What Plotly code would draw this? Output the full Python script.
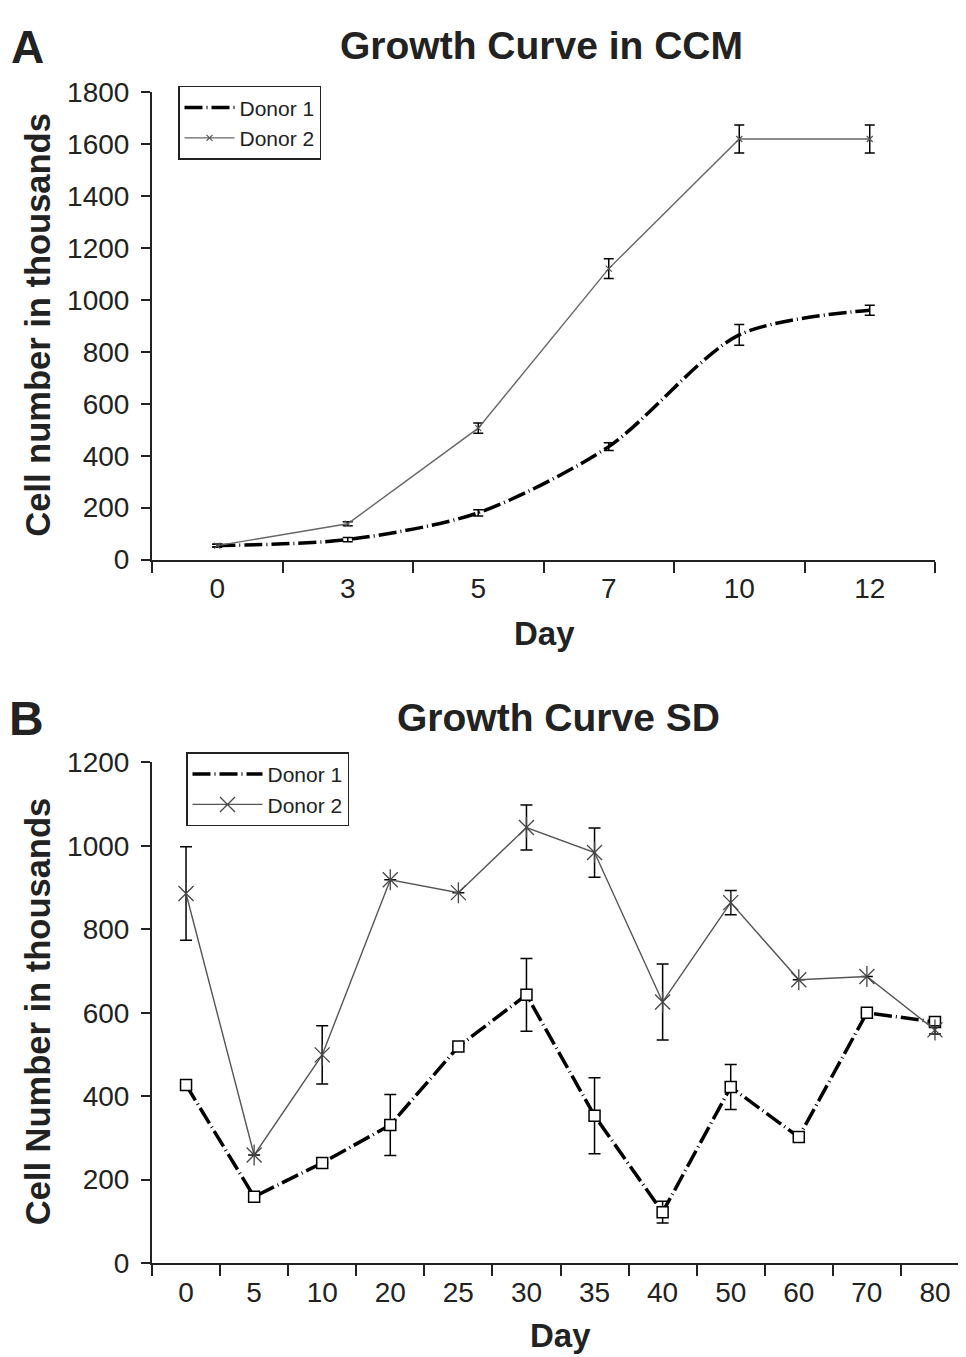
import plotly.graph_objects as go

# ---------------- Data ----------------
days_a = ["0", "3", "5", "7", "10", "12"]
a_donor1 = [54, 77, 180, 435, 865, 960]
a_donor1_err = [5, 8, 12, 15, 40, 19]
a_donor2 = [54, 138, 506, 1120, 1619, 1619]
a_donor2_err = [5, 8, 20, 38, 54, 54]

days_b = ["0", "5", "10", "20", "25", "30", "35", "40", "50", "60", "70", "80"]
b_donor1 = [427, 159, 240, 331, 519, 643, 353, 122, 422, 302, 600, 578]
b_donor1_err = [0, 0, 0, 73, 0, 87, 91, 26, 54, 0, 0, 10]
b_donor2 = [886, 259, 499, 919, 888, 1044, 984, 626, 864, 679, 687, 559]
b_donor2_err = [112, 0, 70, 0, 0, 54, 59, 91, 29, 0, 0, 10]

# figure size and the observed page->picture mapping
W, H = 961, 1365
OX = 8.0
SY, OY = 0.978, 23.0
FONT = "Liberation Sans, Arial, sans-serif"
TXT = "#222222"
DASH1 = "18px,4px,1px,4px"


def px(x):
    return min(1.0, (x - OX) / W)


def py(y):
    return 1 - (y - OY) / SY / H


fig = go.Figure()

# ---------- Panel A ----------
fig.add_trace(go.Scatter(
    x=days_a, y=a_donor1, mode="lines", name="Donor 1",
    line=dict(color="black", width=3.5, dash=DASH1, shape="spline", smoothing=0.8),
    error_y=dict(type="data", array=a_donor1_err, color="black", thickness=1.5, width=5),
    xaxis="x", yaxis="y", legend="legend"))
fig.add_trace(go.Scatter(
    x=days_a, y=a_donor2, mode="lines+markers", name="Donor 2",
    line=dict(color="#666666", width=1.4),
    marker=dict(symbol="x-thin-open", size=6, color="#555555", line=dict(color="#555555", width=1.2)),
    error_y=dict(type="data", array=a_donor2_err, color="black", thickness=1.5, width=5),
    xaxis="x", yaxis="y", legend="legend"))

# ---------- Panel B ----------
fig.add_trace(go.Scatter(
    x=days_b, y=b_donor1, mode="lines", name="Donor 1",
    line=dict(color="black", width=3.5, dash=DASH1),
    error_y=dict(type="data", array=b_donor1_err, color="black", thickness=1.5, width=6),
    xaxis="x2", yaxis="y2", legend="legend2"))
fig.add_trace(go.Scatter(
    x=days_b, y=b_donor1, mode="markers", showlegend=False, hoverinfo="skip",
    marker=dict(symbol="square", size=11, color="white", line=dict(color="black", width=1.5)),
    xaxis="x2", yaxis="y2"))
fig.add_trace(go.Scatter(
    x=days_b, y=b_donor2, mode="lines+markers", name="Donor 2",
    line=dict(color="#555555", width=1.4),
    marker=dict(symbol="x-thin-open", size=15, color="#444444", line=dict(color="#444444", width=1.3)),
    error_y=dict(type="data", array=b_donor2_err, color="black", thickness=1.5, width=6),
    xaxis="x2", yaxis="y2", legend="legend2"))
fig.add_trace(go.Scatter(
    x=days_b, y=b_donor2, mode="markers", showlegend=False, hoverinfo="skip",
    marker=dict(symbol="line-ns-open", size=15, color="#444444", line=dict(color="#444444", width=1.3)),
    xaxis="x2", yaxis="y2"))

tickfont = dict(family=FONT, size=28, color=TXT)
common_x = dict(type="category", showline=True, linecolor="#222", linewidth=2,
                ticks="outside", ticklen=11, tickwidth=2, tickcolor="#222",
                tickson="boundaries", showgrid=False, zeroline=False, tickfont=tickfont,
                ticklabelstandoff=3)
common_y = dict(showline=True, linecolor="#222", linewidth=2, ticks="outside",
                ticklen=9, tickwidth=2, tickcolor="#222", showgrid=False,
                zeroline=False, tickfont=tickfont, ticklabelstandoff=6)

fig.update_layout(
    width=W, height=H,
    margin=dict(l=0, r=0, t=0, b=0),
    paper_bgcolor="white", plot_bgcolor="white",
    xaxis=dict(common_x, domain=[px(152), px(935)], range=[-0.5, 5.5], anchor="y"),
    yaxis=dict(common_y, domain=[py(560), py(92)], range=[0, 1800], dtick=200, anchor="x"),
    xaxis2=dict(common_x, domain=[px(152), px(969)], range=[-0.5, 11.5], anchor="y2"),
    yaxis2=dict(common_y, domain=[py(1264), py(763)], range=[0, 1200], dtick=200, anchor="x2"),
    legend=dict(x=px(178), y=py(86), xanchor="left", yanchor="top",
                bordercolor="#222", borderwidth=1.5, bgcolor="white",
                font=dict(family=FONT, size=21, color=TXT), itemwidth=50,
                tracegroupgap=0),
    legend2=dict(x=px(186), y=py(753), xanchor="left", yanchor="top",
                 bordercolor="#222", borderwidth=1.5, bgcolor="white",
                 font=dict(family=FONT, size=21, color=TXT), itemwidth=70,
                 tracegroupgap=0),
    showlegend=True,
)

ann = []


def add_text(text, x, y, size, bold=True, angle=0):
    ann.append(dict(text=f"<b>{text}</b>" if bold else text, x=px(x), y=py(y),
                    xref="paper", yref="paper", showarrow=False,
                    xanchor="center", yanchor="middle", textangle=angle,
                    font=dict(family=FONT, size=size, color=TXT)))


add_text("A", 27, 47, 46)
add_text("Growth Curve in CCM", 541, 46, 39)
add_text("Cell number in thousands", 38, 325, 34.5, angle=-90)
add_text("Day", 544, 634, 33)

add_text("B", 26, 719, 48)
add_text("Growth Curve SD", 558, 718, 39)
add_text("Cell Number in thousands", 38, 1013, 34.5, angle=-90)
add_text("Day", 560, 1336, 33)

fig.update_layout(annotations=ann)

fig.write_html("out.html")
